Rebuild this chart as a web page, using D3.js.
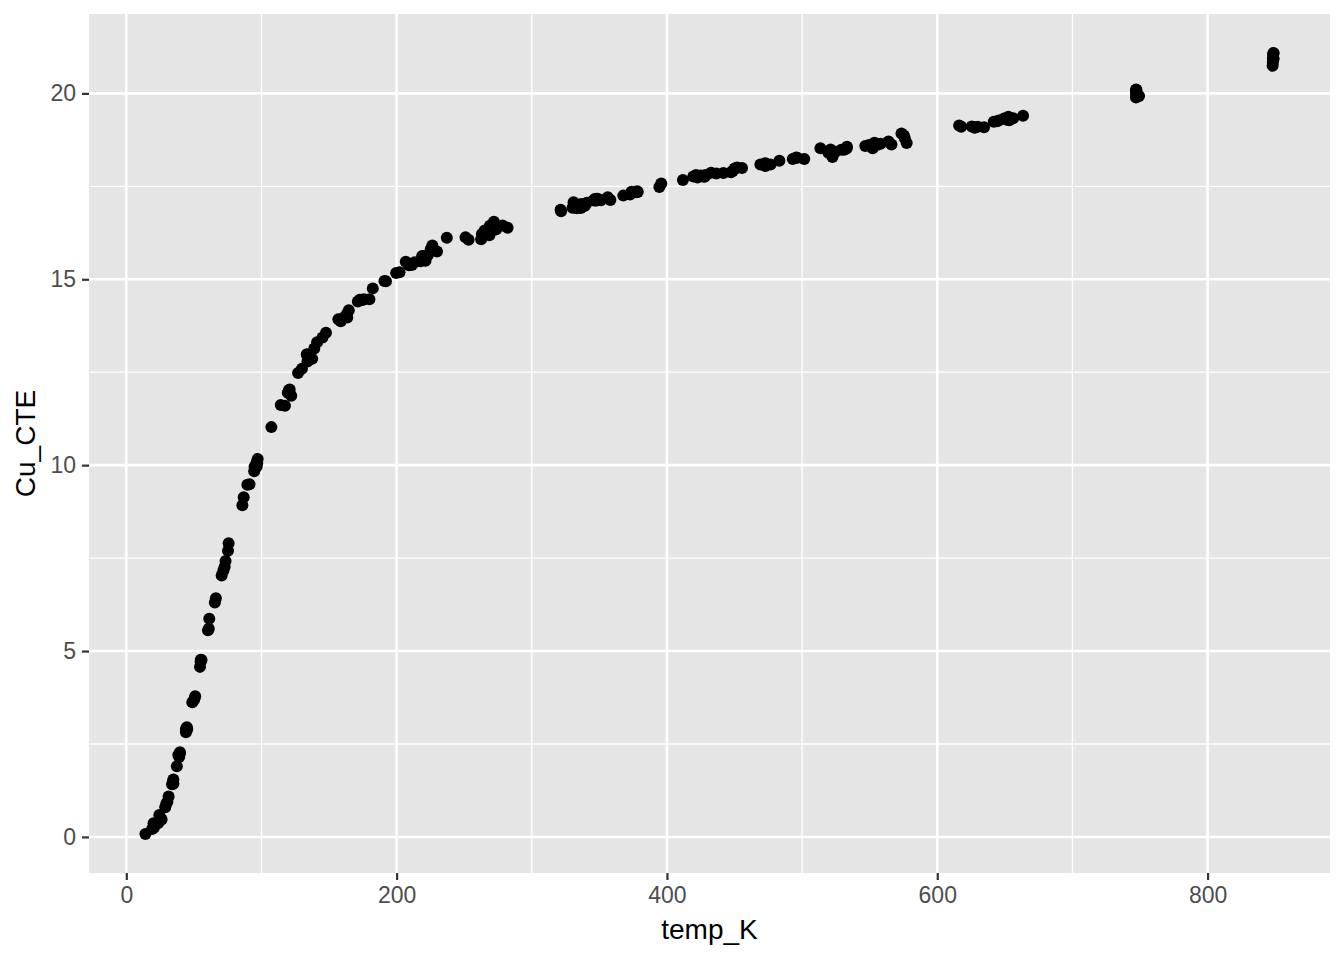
<!DOCTYPE html>
<html>
<head>
<meta charset="utf-8">
<script src="https://cdn.jsdelivr.net/npm/d3@7"></script>
<style>
  body { margin: 0; background: #fff; }
  svg { font-family: "Liberation Sans", Arial, Helvetica, sans-serif; }
</style>
</head>
<body>
<svg id="viz" width="1344" height="960"></svg>
<script>
// temperature (K) and Cu thermal expansion
const tempK = [
  24.41, 34.82, 44.09, 45.07, 54.98, 65.51, 70.53, 75.70, 89.57, 91.14, 96.40, 97.19, 114.26, 120.25, 127.08, 133.55, 133.61, 158.67, 172.74, 171.31, 202.14, 220.55, 221.05, 221.39, 250.99, 268.99, 271.80, 271.97, 321.31, 321.69, 330.14, 333.03, 333.47, 340.77, 345.65, 373.11, 373.79, 411.82, 419.51, 421.59, 422.02, 422.47, 422.61, 441.75, 447.41, 448.70, 472.89, 476.69, 522.47, 522.62, 524.43, 546.75, 549.53, 575.29, 576.00, 625.55,
  20.15, 28.78, 29.57, 37.41, 39.12, 50.24, 61.38, 66.25, 73.42, 95.52, 107.32, 122.04, 134.03, 163.19, 163.48, 175.70, 179.86, 211.27, 217.78, 219.14, 262.52, 268.01, 268.62, 336.25, 337.23, 339.33, 427.38, 428.58, 432.68, 528.99, 531.08, 628.34,
  253.24, 273.13, 273.66, 282.10, 346.62, 347.19, 348.78, 351.18, 450.10, 450.35, 451.92, 455.56, 552.22, 553.56, 555.74, 652.59, 656.20,
  14.13, 20.41, 31.30, 33.84, 39.70, 48.83, 54.50, 60.41, 72.77, 75.25, 86.84, 94.88, 96.40, 117.37, 139.08, 147.73, 158.63, 161.84, 192.11, 206.76, 209.07, 213.32, 226.44, 237.12, 330.90, 358.17, 372.72, 377.97, 394.39, 428.08, 483.20, 496.44, 501.61, 493.09, 513.54, 566.11, 577.37, 634.60,
  19.04, 30.41, 34.84, 39.57, 44.80, 50.98, 55.67, 61.02, 71.84, 85.87, 96.88, 120.88, 137.52, 145.16, 164.62, 182.35, 199.65, 223.20, 229.88, 263.09, 278.34, 337.88, 347.88, 356.16, 367.69, 377.35, 425.12, 472.90, 521.08, 533.20, 558.11, 563.93, 573.53, 629.95,
  23.70, 26.13, 34.63, 38.48, 44.09, 55.09, 94.59, 96.57, 119.47, 129.94, 141.16, 156.89, 174.75, 190.96, 218.91, 221.70, 225.27, 265.14, 268.71, 272.39, 272.29, 336.50, 333.19, 347.73, 349.19, 378.42, 395.80, 436.60, 469.13, 495.54, 519.43, 532.92, 616.18, 627.70, 641.78, 653.32, 617.71, 663.47, 644.21, 747.03, 747.05, 749.30, 645.48, 649.40, 747.06, 747.09, 747.19, 747.20, 652.01, 747.31, 747.35, 848.15, 848.30, 848.35, 848.46, 848.62, 848.71, 848.81, 848.84
];
const cuCTE = [
  0.591, 1.547, 2.902, 2.894, 4.703, 6.307, 7.03, 7.898, 9.470, 9.484, 10.072, 10.163, 11.615, 12.005, 12.478, 12.982, 12.970, 13.926, 14.452, 14.404, 15.190, 15.550, 15.528, 15.499, 16.131, 16.438, 16.387, 16.549, 16.872, 16.830, 16.926, 16.907, 16.966, 17.060, 17.122, 17.311, 17.355, 17.668, 17.767, 17.803, 17.765, 17.768, 17.736, 17.858, 17.877, 17.912, 18.046, 18.085, 18.291, 18.357, 18.426, 18.584, 18.610, 18.870, 18.795, 19.111,
  0.367, 0.796, 0.892, 1.903, 2.150, 3.697, 5.870, 6.421, 7.422, 9.944, 11.023, 11.870, 12.786, 14.067, 13.974, 14.462, 14.464, 15.381, 15.483, 15.59, 16.075, 16.347, 16.181, 16.915, 17.003, 16.978, 17.756, 17.808, 17.868, 18.481, 18.486, 19.090,
  16.062, 16.337, 16.345, 16.388, 17.159, 17.116, 17.164, 17.123, 17.979, 17.974, 18.007, 17.993, 18.523, 18.669, 18.617, 19.371, 19.330,
  0.080, 0.248, 1.089, 1.418, 2.278, 3.624, 4.574, 5.556, 7.267, 7.695, 9.136, 9.959, 9.957, 11.600, 13.138, 13.564, 13.871, 13.994, 14.947, 15.473, 15.379, 15.455, 15.908, 16.114, 17.071, 17.135, 17.282, 17.368, 17.483, 17.764, 18.185, 18.271, 18.236, 18.237, 18.523, 18.627, 18.665, 19.086,
  0.214, 0.943, 1.429, 2.241, 2.951, 3.782, 4.757, 5.602, 7.169, 8.920, 10.055, 12.035, 12.861, 13.436, 14.167, 14.755, 15.168, 15.651, 15.746, 16.216, 16.445, 16.965, 17.121, 17.206, 17.250, 17.339, 17.793, 18.123, 18.49, 18.566, 18.645, 18.706, 18.924, 19.100,
  0.375, 0.471, 1.504, 2.204, 2.813, 4.765, 9.835, 10.040, 11.946, 12.596, 13.303, 13.922, 14.440, 14.951, 15.627, 15.639, 15.814, 16.315, 16.334, 16.430, 16.423, 17.024, 17.009, 17.165, 17.134, 17.349, 17.576, 17.848, 18.090, 18.276, 18.404, 18.519, 19.133, 19.074, 19.239, 19.280, 19.101, 19.398, 19.252, 19.89, 20.007, 19.929, 19.268, 19.324, 20.049, 20.107, 20.062, 20.065, 19.286, 19.972, 20.088, 20.743, 20.83, 20.935, 21.035, 20.93, 21.074, 21.085, 20.935
];

const xTicks = [0, 200, 400, 600, 800];
const xMinor = [100, 300, 500, 700];
const yTicks = [0, 5, 10, 15, 20];
const yMinor = [2.5, 7.5, 12.5, 17.5];

const svg = d3.select("#viz");
const margin = {top: 14, right: 14, bottom: 87, left: 89};
const width = 1344 - margin.left - margin.right;
const height = 960 - margin.top - margin.bottom;

// ggplot-ish 5% expansion
const xExt = d3.extent(tempK), yExt = d3.extent(cuCTE);
const xPad = (xExt[1] - xExt[0]) * 0.05, yPad = (yExt[1] - yExt[0]) * 0.05;

const x = d3.scaleLinear().domain([xExt[0] - xPad, xExt[1] + xPad]).range([0, width]);
const y = d3.scaleLinear().domain([yExt[0] - yPad, yExt[1] + yPad]).range([height, 0]);

const g = svg.append("g").attr("transform", `translate(${margin.left},${margin.top})`);

g.append("rect")
    .attr("width", width)
    .attr("height", height)
    .attr("fill", "#E5E5E5");

// minor grid
g.selectAll(".xminor").data(xMinor).enter().append("line")
    .attr("x1", d => x(d)).attr("x2", d => x(d))
    .attr("y1", 0).attr("y2", height)
    .attr("stroke", "#fff").attr("stroke-width", 1.3);
g.selectAll(".yminor").data(yMinor).enter().append("line")
    .attr("y1", d => y(d)).attr("y2", d => y(d))
    .attr("x1", 0).attr("x2", width)
    .attr("stroke", "#fff").attr("stroke-width", 1.3);

// major grid
g.selectAll(".xmajor").data(xTicks).enter().append("line")
    .attr("x1", d => x(d)).attr("x2", d => x(d))
    .attr("y1", 0).attr("y2", height)
    .attr("stroke", "#fff").attr("stroke-width", 2.6);
g.selectAll(".ymajor").data(yTicks).enter().append("line")
    .attr("y1", d => y(d)).attr("y2", d => y(d))
    .attr("x1", 0).attr("x2", width)
    .attr("stroke", "#fff").attr("stroke-width", 2.6);

// points
g.selectAll(".pt")
    .data(d3.range(tempK.length))
    .enter()
    .append("circle")
    .attr("class", "pt")
    .attr("cx", i => x(tempK[i]))
    .attr("cy", i => y(cuCTE[i]))
    .attr("r", 6)
    .attr("fill", "#000");

// axes
const xAxis = g.append("g")
    .attr("transform", `translate(0,${height})`)
    .call(d3.axisBottom(x).tickValues(xTicks).tickSize(7).tickPadding(7));
const yAxis = g.append("g")
    .call(d3.axisLeft(y).tickValues(yTicks).tickSize(7).tickPadding(6));

[xAxis, yAxis].forEach(a => {
    a.select(".domain").remove();
    a.selectAll(".tick line").attr("stroke", "#333333").attr("stroke-width", 2.2);
    a.selectAll(".tick text")
        .attr("fill", "#4D4D4D")
        .style("font-size", "23px")
        .style("font-family", "'Liberation Sans', Arial, sans-serif");
});

svg.append("text")
    .attr("x", margin.left + width / 2)
    .attr("y", 939)
    .attr("text-anchor", "middle")
    .style("font-size", "28px")
    .style("fill", "#000")
    .text("temp_K");

svg.append("text")
    .attr("transform", `translate(35,${margin.top + height / 2}) rotate(-90)`)
    .attr("text-anchor", "middle")
    .style("font-size", "28px")
    .style("fill", "#000")
    .text("Cu_CTE");
</script>
</body>
</html>
